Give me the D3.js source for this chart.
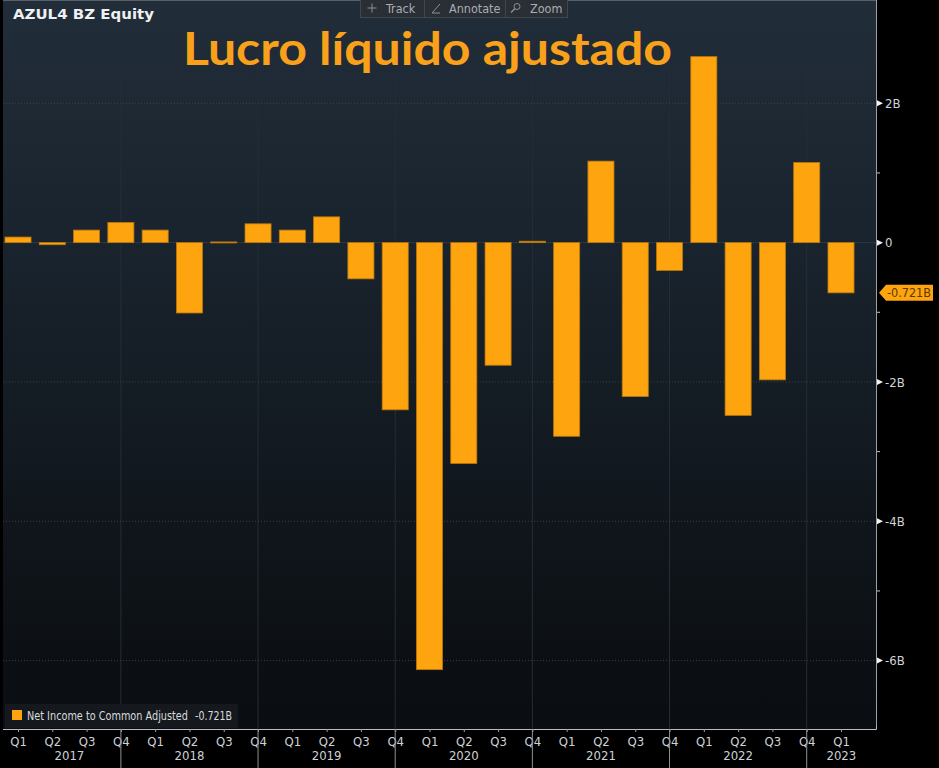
<!DOCTYPE html>
<html><head><meta charset="utf-8">
<script src="https://cdn.jsdelivr.net/npm/d3@7"></script>
<style>html,body{margin:0;padding:0;background:#000;overflow:hidden}svg{display:block}</style>
</head><body>
<svg id="c" width="939" height="768"></svg>
<script>
// ---- data ----
const quarters = ["Q1","Q2","Q3","Q4","Q1","Q2","Q3","Q4","Q1","Q2","Q3","Q4","Q1","Q2","Q3","Q4","Q1","Q2","Q3","Q4","Q1","Q2","Q3","Q4","Q1"];
const years = ["2017","2017","2017","2017","2018","2018","2018","2018","2019","2019","2019","2019","2020","2020","2020","2020","2021","2021","2021","2021","2022","2022","2022","2022","2023"];
const values = [0.08,-0.03,0.18,0.29,0.18,-1.01,0.01,0.27,0.18,0.37,-0.52,-2.40,-6.13,-3.17,-1.76,0.02,-2.78,1.17,-2.21,-0.40,2.67,-2.48,-1.97,1.15,-0.721];
const yearLabels = ["2017","2018","2019","2020","2021","2022","2023"];
const yTicks = [2,0,-2,-4,-6];
const yMinorTicks = [1,-1,-3,-5];
const seriesName = "Net Income to Common Adjusted";
const lastLabel = "-0.721B";
const tickerText = "AZUL4 BZ Equity";
const titleText = "Lucro líquido ajustado";
const toolbarItems = ["Track","Annotate","Zoom"];

// ---- layout ----
const W = 939, H = 768;
const P = {left:3, right:876, top:1, bottom:729};
const ORANGE = "#fea40f";
const NARROW = "'Liberation Sans Narrow','DejaVu Sans Condensed','Roboto',sans-serif";

const svg = d3.select("#c");
svg.append("rect").attr("width",W).attr("height",H).attr("fill","#000");

const defs = svg.append("defs");
const g = defs.append("linearGradient").attr("id","bg").attr("x1",0).attr("y1",0).attr("x2",0).attr("y2",1);
g.append("stop").attr("offset","0%").attr("stop-color","#212d39");
g.append("stop").attr("offset","35%").attr("stop-color","#19232d");
g.append("stop").attr("offset","70%").attr("stop-color","#10161c");
g.append("stop").attr("offset","100%").attr("stop-color","#0a0d11");

svg.append("rect").attr("x",P.left).attr("y",P.top).attr("width",P.right-P.left).attr("height",P.bottom-P.top).attr("fill","url(#bg)");
svg.append("line").attr("x1",P.left).attr("x2",P.right).attr("y1",0.5).attr("y2",0.5).attr("stroke","#5a6068");

const idx = d3.range(values.length);
const x = d3.scalePoint().domain(idx).range([18, 841]);
const bw = x.step()*0.76;
const y = d3.scaleLinear().domain([-6,2]).range([660.6,103.3]);

// separators (Q4 positions)
const sepIdx = idx.filter(i => quarters[i]==="Q4");

// grid
svg.append("g").selectAll("line").data(sepIdx).join("line")
  .attr("x1",i=>x(i)).attr("x2",i=>x(i)).attr("y1",P.top).attr("y2",P.bottom)
  .attr("stroke","#232e39").attr("stroke-width",1);
svg.append("g").selectAll("line").data(yTicks).join("line")
  .attr("x1",P.left).attr("x2",P.right).attr("y1",d=>y(d)).attr("y2",d=>y(d))
  .attr("stroke",d=>d===0?"#2c3742":"#36414c").attr("stroke-width",1)
  .attr("stroke-dasharray",d=>d===0?null:"1,2");

// bars
svg.append("g").selectAll("rect").data(idx).join("rect")
  .attr("x",i=>x(i)-bw/2).attr("width",bw)
  .attr("y",i=>Math.min(y(values[i]),y(0)))
  .attr("height",i=>Math.max(1,Math.abs(y(values[i])-y(0))))
  .attr("fill",ORANGE).attr("stroke","#b9770b").attr("stroke-width",0.8);

// right axis
const ax = svg.append("g").attr("transform",`translate(${P.right},0)`);
ax.append("line").attr("x1",0.5).attr("x2",0.5).attr("y1",0).attr("y2",P.bottom).attr("stroke","#9aa0a6");
const yAxis = d3.axisRight(y).tickValues(yTicks).tickSize(0).tickPadding(9)
  .tickFormat(d => d===0 ? "0" : d + "B");
const ya = ax.append("g").call(yAxis);
ya.select(".domain").remove();
ya.selectAll("text").attr("fill","#d2d4d6").style("font-family",NARROW).style("font-size","13px");
ax.selectAll(".tri").data(yTicks).join("path").attr("class","tri")
  .attr("d",d=>`M1,${y(d)-3}L1,${y(d)+3}L7,${y(d)}Z`).attr("fill","#f2f2f2");
ax.selectAll(".minor").data(yMinorTicks).join("line").attr("class","minor")
  .attr("x1",1).attr("x2",4).attr("y1",d=>y(d)).attr("y2",d=>y(d)).attr("stroke","#c8c8c8");

// last value tag
const ly = y(values[values.length-1]);
svg.append("path").attr("d",`M879,${ly}L886,${ly-8}L933,${ly-8}L933,${ly+8}L886,${ly+8}Z`).attr("fill",ORANGE);
svg.append("text").attr("x",909).attr("y",ly).attr("dy","0.35em").attr("text-anchor","middle")
  .attr("fill","#5a3a00").style("font-family",NARROW).style("font-size","12.5px").text(lastLabel);

// bottom axis
const bx = svg.append("g").attr("transform",`translate(0,${P.bottom})`);
bx.append("line").attr("x1",P.left).attr("x2",P.right+0.5).attr("y1",0.5).attr("y2",0.5).attr("stroke","#b9bdc1");
bx.append("line").attr("x1",P.right+0.5).attr("x2",P.right+0.5).attr("y1",-3).attr("y2",0.5).attr("stroke","#b9bdc1");
const xAxis = d3.axisBottom(x).tickSize(3).tickPadding(5).tickFormat(i => quarters[i]);
const xa = bx.append("g").call(xAxis);
xa.select(".domain").remove();
xa.selectAll("line").attr("stroke","#9aa0a6");
xa.selectAll("text").attr("fill","#cfd2d5").style("font-family",NARROW).style("font-size","13px");
bx.selectAll(".sep").data(sepIdx).join("line").attr("class","sep")
  .attr("x1",i=>x(i)).attr("x2",i=>x(i)).attr("y1",0).attr("y2",H-P.bottom)
  .attr("stroke","#8d9196").attr("stroke-width",1);

// year labels centered between separators
const yearPos = yearLabels.map(yr => {
  const ids = idx.filter(i => years[i]===yr);
  const first = ids[0], last = ids[ids.length-1];
  const start = first===0 ? x(first) : x(first-1);
  const end = quarters[last]==="Q4" ? x(last) : P.right;
  return {yr, cx:(start+end)/2};
});
bx.selectAll(".yr").data(yearPos).join("text").attr("class","yr")
  .attr("x",d=>d.cx).attr("y",31).attr("text-anchor","middle")
  .attr("fill","#cfd2d5").style("font-family",NARROW).style("font-size","13px").text(d=>d.yr);

// legend
svg.append("rect").attr("x",5).attr("y",704).attr("width",233).attr("height",24).attr("fill","#15191e");
svg.append("rect").attr("x",12).attr("y",710).attr("width",10).attr("height",10).attr("fill",ORANGE);
svg.append("text").attr("x",27).attr("y",720).attr("fill","#d9dbdd")
  .style("font-family",NARROW).style("font-size","11.5px")
  .attr("textLength",161).attr("lengthAdjust","spacingAndGlyphs").text(seriesName);
svg.append("text").attr("x",195).attr("y",720).attr("fill","#d9dbdd")
  .style("font-family",NARROW).style("font-size","11.5px")
  .attr("textLength",37).attr("lengthAdjust","spacingAndGlyphs").text(lastLabel);

// ticker
svg.append("text").attr("x",13).attr("y",19).attr("fill","#eef0f2")
  .style("font-family","'DejaVu Sans',sans-serif").style("font-weight","bold").style("font-size","14px")
  .attr("textLength",141).attr("lengthAdjust","spacingAndGlyphs").text(tickerText);

// toolbar
const tb = svg.append("g");
tb.append("rect").attr("x",360.5).attr("y",-1).attr("width",207).attr("height",18.5).attr("fill","#2a2f36").attr("stroke","#40464e");
[424.5,505.5].forEach(xx => tb.append("line").attr("x1",xx).attr("x2",xx).attr("y1",0).attr("y2",17).attr("stroke","#40464e"));
const tbx = [386, 449, 530];
toolbarItems.forEach((t,i) => tb.append("text").attr("x",tbx[i]).attr("y",12.5).attr("fill","#a9adb2")
  .style("font-family",NARROW).style("font-size","12.5px").text(t));
// icons
tb.append("path").attr("d","M372,3.5V12.5M367.5,8H376.5").attr("stroke","#8c9096").attr("stroke-width",1);
tb.append("path").attr("d","M432,13L440,4M432,13H440").attr("stroke","#8c9096").attr("stroke-width",1).attr("fill","none");
tb.append("circle").attr("cx",517).attr("cy",6.5).attr("r",3).attr("stroke","#8c9096").attr("fill","none");
tb.append("path").attr("d","M515,8.5L511,12.5").attr("stroke","#8c9096").attr("stroke-width",1.5);

// title
svg.append("text").attr("x",183).attr("y",65).attr("fill","#f9a11b")
  .style("font-family","Lato,'Open Sans',sans-serif").style("font-weight","bold").style("font-size","46px")
  .attr("textLength",489).attr("lengthAdjust","spacingAndGlyphs").text(titleText);
</script>
</body></html>
